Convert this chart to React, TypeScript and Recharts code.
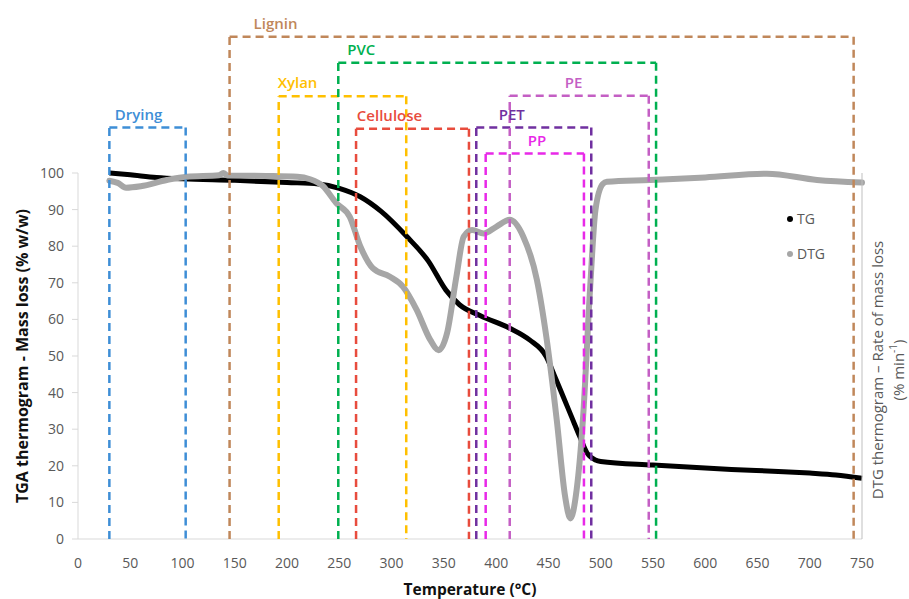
// TGA / DTG thermogram of the mixed sample, with the dashed degradation
// windows of each component drawn as open boxes above the curves.

import { Label, Legend, Line, LineChart, ReferenceDot, ReferenceLine, XAxis, YAxis } from "recharts";

const FONT = "'Open Sans', sans-serif";
const TICK_GRAY = "#595959";
const AXIS_GRAY = "#D9D9D9";

const xTicks = [0, 50, 100, 150, 200, 250, 300, 350, 400, 450, 500, 550, 600, 650, 700, 750];
const yTicks = [0, 10, 20, 30, 40, 50, 60, 70, 80, 90, 100];
const seriesOrder = ["TG", "DTG"];

// TG: remaining mass (% w/w) vs temperature (°C)
const tgTemp = [30, 50, 75, 100, 150, 200, 230, 250, 270, 290, 315, 335, 352, 365, 385, 413, 432, 448, 456, 464, 472, 480, 487, 495, 500, 550, 625, 675, 700, 725, 750];
const tgMass = [100, 99.5, 98.8, 98.4, 98, 97.4, 97, 95.8, 93.5, 89.5, 82.5, 76, 68, 64, 61, 57.6, 54.4, 49.8, 44.5, 39, 33.5, 28, 23.5, 21.6, 21.2, 20.2, 19, 18.4, 18, 17.5, 16.6];

// DTG: rate of mass loss (plotted on the same 0-100 frame)
const dtgTemp = [30, 38, 46, 60, 85, 104, 135, 139, 143, 180, 210, 222, 234, 247, 260, 270, 282, 298, 311, 324, 337, 345, 353, 362, 369, 377, 388, 400, 413, 426, 439, 448, 458, 466, 471, 477, 483, 490, 495, 502, 506, 547, 600, 659, 707, 750];
const dtgRate = [97.9, 97.3, 96, 96.4, 98.1, 99, 99.4, 100, 99.3, 99.2, 99, 98.3, 96.5, 91.8, 88, 80, 74, 71.7, 68.9, 62.6, 54.4, 51.6, 56.2, 71.7, 82.6, 84.4, 83.5, 85.3, 87.2, 82.6, 70.8, 55.3, 32.5, 11.6, 5.6, 13.4, 32.5, 69, 89.9, 97, 97.6, 98.1, 98.8, 99.8, 98.1, 97.4];

// degradation windows: temperature range and box height (same y frame)
const zoneNames = ["Drying", "Lignin", "Xylan", "PVC", "Cellulose", "PET", "PE", "PP"];
const zoneStart = [30, 145, 192, 249, 266, 381, 413, 390];
const zoneEnd = [103, 742, 314, 553, 374, 491, 546, 484];
const zoneTop = [112.4, 137.2, 121, 130.1, 112.1, 112.4, 121.1, 105.3];
const zoneLabelAt = [58, 189, 210, 271, 298, 415, 474, 439];
const zoneColors = ["#3E8ED6", "#C0875A", "#FFC000", "#00B050", "#E84C3D", "#7030A0", "#C45FC4", "#E829E8"];

const tgData = tgTemp.map((t, i) => ({ t, v: tgMass[i] }));
const dtgData = dtgTemp.map((t, i) => ({ t, v: dtgRate[i] }));

function SeriesLegend({ payload }: { payload?: { value: string; color: string }[] }) {
  const items = [...(payload ?? [])].sort((a, b) => seriesOrder.indexOf(a.value) - seriesOrder.indexOf(b.value));
  return (
    <div style={{ fontFamily: FONT, fontSize: 14, color: TICK_GRAY }}>
      {items.map((p) => (
        <div key={p.value} style={{ display: "flex", alignItems: "center", height: 35 }}>
          <span
            style={{ width: 6, height: 6, borderRadius: 3, background: p.color, marginRight: 4, display: "inline-block" }}
          />
          {p.value}
        </div>
      ))}
    </div>
  );
}

function LeftTitle({ viewBox }: any) {
  const cx = viewBox.x + 4;
  const cy = viewBox.y + viewBox.height / 2;
  return (
    <text
      x={cx}
      y={cy}
      transform={`rotate(-90 ${cx} ${cy})`}
      textAnchor="middle"
      dominantBaseline="central"
      fontFamily={FONT}
      fontSize={16}
      fontWeight={700}
      fill="#111"
    >
      TGA thermogram - Mass loss (% w/w)
    </text>
  );
}

function RightTitle({ viewBox }: any) {
  const cy = viewBox.y + viewBox.height / 2 + 14;
  const x1 = viewBox.x + 15;
  const x2 = viewBox.x + 36;
  return (
    <g fontFamily={FONT} fontSize={15} fill={TICK_GRAY} textAnchor="middle">
      <text x={x1} y={cy} transform={`rotate(-90 ${x1} ${cy})`} dominantBaseline="central">
        DTG thermogram – Rate of mass loss
      </text>
      <text x={x2} y={cy} transform={`rotate(-90 ${x2} ${cy})`} dominantBaseline="central">
        (% min<tspan dy={-5} fontSize={10}>-1</tspan>
        <tspan dy={5}>)</tspan>
      </text>
    </g>
  );
}

export default function App() {
  return (
    <div style={{ position: "absolute", left: 0, top: 0, background: "#fff" }}>
      <LineChart width={909} height={599} margin={{ top: 173, right: 7, bottom: 30, left: 18 }}>
        <XAxis
          type="number"
          dataKey="t"
          domain={[0, 750]}
          ticks={xTicks}
          tickLine={false}
          tickMargin={13}
          axisLine={{ stroke: AXIS_GRAY }}
          tick={{ fill: TICK_GRAY, fontSize: 14, fontFamily: FONT }}
          height={30}
        >
          <Label
            value="Temperature (°C)"
            position="bottom"
            offset={15}
            fill="#111"
            fontSize={15.5}
            fontWeight={700}
            fontFamily={FONT}
          />
        </XAxis>
        <YAxis
          type="number"
          domain={[0, 100]}
          ticks={yTicks}
          width={60}
          tickSize={6}
          tickMargin={8}
          tickLine={{ stroke: AXIS_GRAY }}
          axisLine={{ stroke: AXIS_GRAY }}
          tick={{ fill: TICK_GRAY, fontSize: 14, fontFamily: FONT }}
        >
          <Label content={<LeftTitle />} />
        </YAxis>
        <YAxis
          yAxisId="right"
          orientation="right"
          type="number"
          domain={[0, 100]}
          width={40}
          tick={false}
          tickLine={false}
          axisLine={{ stroke: "#BFBFBF" }}
        >
          <Label content={<RightTitle />} />
        </YAxis>

        <Line
          data={tgData}
          dataKey="v"
          name="TG"
          type="monotone"
          stroke="#000"
          strokeWidth={5}
          dot={false}
          isAnimationActive={false}
        />
        <Line
          data={dtgData}
          dataKey="v"
          name="DTG"
          type="monotone"
          stroke="#A6A6A6"
          strokeWidth={6}
          strokeLinecap="round"
          dot={false}
          isAnimationActive={false}
        />

        {/* dashed windows sit on top of the curves, as in the source figure */}
        {zoneNames.map((name, i) => {
          const c = zoneColors[i];
          const dash = { stroke: c, strokeWidth: 2.5, strokeDasharray: "8 5", ifOverflow: "visible" as const, zIndex: 1000 };
          return [
            <ReferenceLine key={`${name}-l`} {...dash} segment={[{ x: zoneStart[i], y: 0 }, { x: zoneStart[i], y: zoneTop[i] }]} />,
            <ReferenceLine key={`${name}-t`} {...dash} segment={[{ x: zoneStart[i], y: zoneTop[i] }, { x: zoneEnd[i], y: zoneTop[i] }]} />,
            <ReferenceLine key={`${name}-r`} {...dash} segment={[{ x: zoneEnd[i], y: zoneTop[i] }, { x: zoneEnd[i], y: 0 }]} />,
            <ReferenceDot
              key={`${name}-n`}
              x={zoneLabelAt[i]}
              y={zoneTop[i]}
              r={0}
              fill="none"
              stroke="none"
              ifOverflow="visible"
              label={{ value: name, position: "top", offset: 8, fill: c, fontSize: 15, fontWeight: 600, fontFamily: FONT }}
            />,
          ];
        })}

        <Legend
          layout="vertical"
          align="center"
          verticalAlign="middle"
          itemSorter={(item: any) => seriesOrder.indexOf(item.value)}
          content={<SeriesLegend />}
          wrapperStyle={{ left: 787, top: 201, width: 80 }}
        />
      </LineChart>
    </div>
  );
}
